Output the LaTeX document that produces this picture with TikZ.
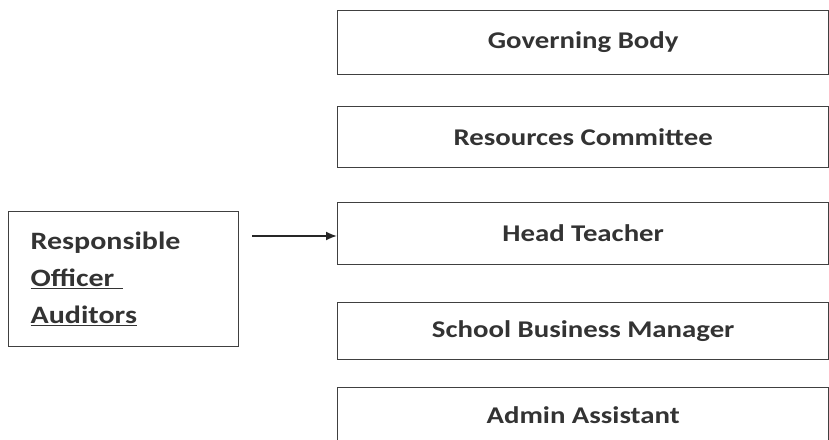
\documentclass[tikz,border=0pt]{standalone}
\usepackage{fontspec}
\setmainfont{Carlito}[FakeStretch=1.2]
\usetikzlibrary{arrows.meta}
\begin{document}
\begin{tikzpicture}[x=1pt,y=1pt,
  orgbox/.style={draw=black!75, line width=1.3pt, text=black!80, font=\fontsize{24}{30}\selectfont\bfseries},
  conn/.style={draw=black!85, line width=1.8pt, -{Latex[length=11pt,width=9pt]}}]
\useasboundingbox (0,0) rectangle (829,439);
\node[orgbox, minimum width=491pt, minimum height=64pt, anchor=south west] (gb) at (337,364) {Governing Body};
\node[orgbox, minimum width=491pt, minimum height=61pt, anchor=south west] (rc) at (337,271) {Resources Committee};
\node[orgbox, minimum width=491pt, minimum height=62pt, anchor=south west] (ht) at (337,174) {Head Teacher};
\node[orgbox, minimum width=491pt, minimum height=57pt, anchor=south west] (sbm) at (337,79) {School Business Manager};
\node[orgbox, minimum width=491pt, minimum height=55pt, anchor=south west] (aa) at (337,-4) {Admin Assistant};
\node[orgbox, minimum width=230pt, minimum height=135pt, anchor=south west, align=left, text width=186pt, inner xsep=22pt, font=\fontsize{25}{37}\selectfont\bfseries] (ro) at (8,92) {Responsible\\\underline{Officer\ }\\\underline{Auditors}};
\coordinate (a0) at (252,203);
\draw[conn] (a0) -- (ht.west |- a0);
\end{tikzpicture}
\end{document}
